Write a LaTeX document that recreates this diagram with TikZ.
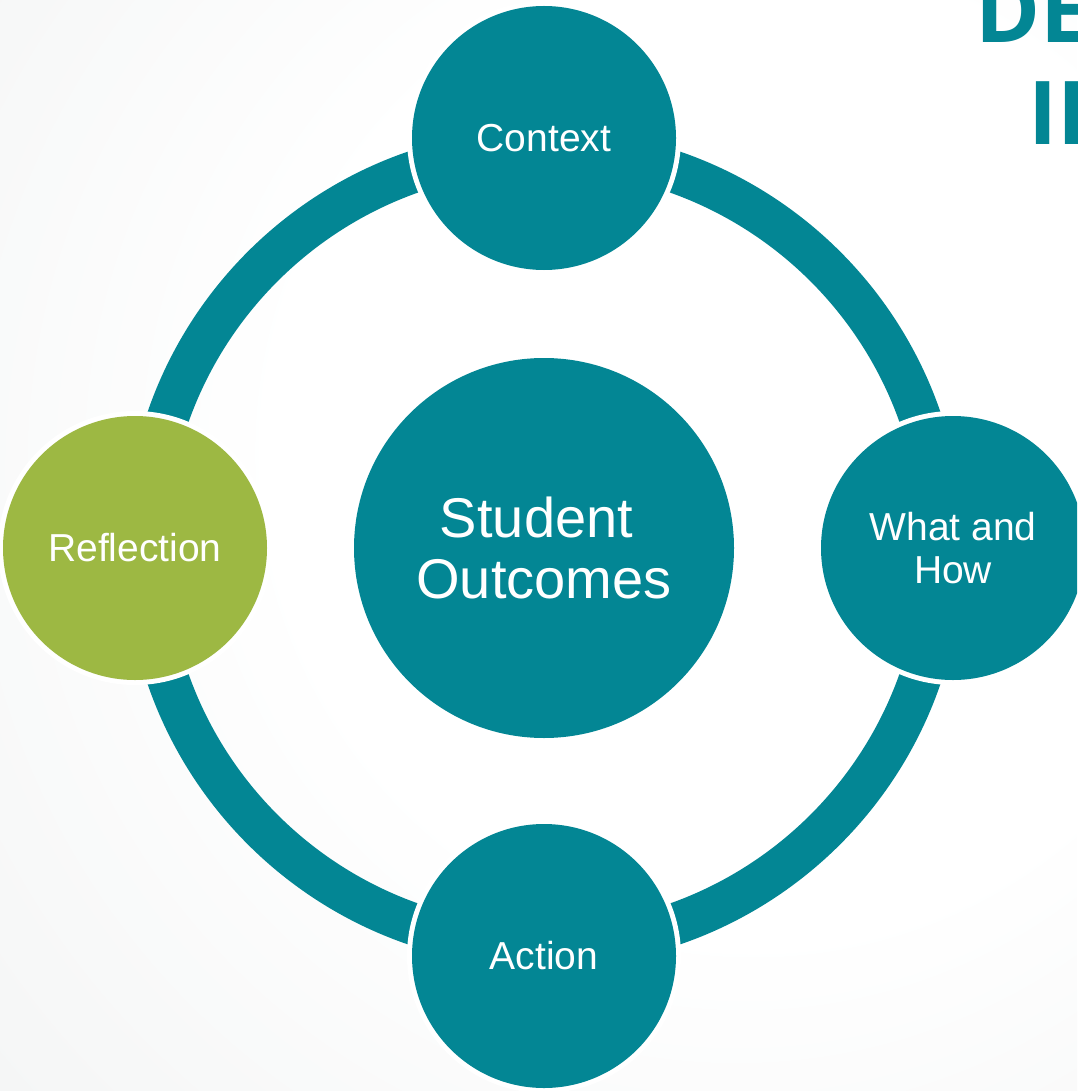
\documentclass[tikz,border=0pt]{standalone}
\usepackage{fontspec}
\setmainfont{Liberation Sans}
\newfontfamily\titlefont{Open Sans}
\definecolor{teal1}{RGB}{3,134,148}
\definecolor{green1}{RGB}{157,184,67}
\definecolor{bgg}{RGB}{237,239,239}
\pgfdeclareradialshading{bgshade}{\pgfpoint{14bp}{6bp}}{color(0bp)=(white); color(22bp)=(white); color(58bp)=(bgg); color(80bp)=(bgg)}
\begin{document}
\begin{tikzpicture}[x=1pt,y=-1pt,
  sat/.style={circle, minimum size=264pt, inner sep=0pt, text=white, align=center,
    font=\fontsize{39}{43}\selectfont},
  hub/.style={circle, minimum size=380pt, inner sep=0pt, text=white, align=center,
    fill=teal1, font=\fontsize{56}{61}\selectfont},
  gapdisc/.style={fill=white},
  titletext/.style={anchor=base west, inner sep=0pt, text=teal1,
    font=\titlefont\bfseries\fontsize{88}{100}\selectfont}]
\useasboundingbox (0,0) rectangle (1077,1091);
\clip (0,0) rectangle (1077,1091);
\shade[shading=bgshade] (0,0) rectangle (1077,1091);

\coordinate (cM) at (544,548);
\coordinate (cT) at (544,138);
\coordinate (cR) at (953,548);
\coordinate (cB) at (544,956);
\coordinate (cL) at (135,548);

% ring
\fill[teal1, even odd rule] (cM) circle (419pt) (cM) circle (377pt);

% gaps around satellites
\foreach \c in {cT,cR,cB,cL} \fill[gapdisc] (\c) circle (137pt);

\node[hub] (outcomes) at (cM) {Student\hspace*{15pt}\\Outcomes};
\node[sat, fill=teal1] (context) at (cT) {Context};
\node[sat, fill=teal1] (whathow) at (cR) {What and\\How};
\node[sat, fill=teal1] (action) at (cB) {Action};
\node[sat, fill=green1] (reflection) at (cL) {Reflection};

\node[titletext] (title1) at (975,43) {DE};
\node[titletext] (title2) at (1028,145) {IL};
\end{tikzpicture}
\end{document}
